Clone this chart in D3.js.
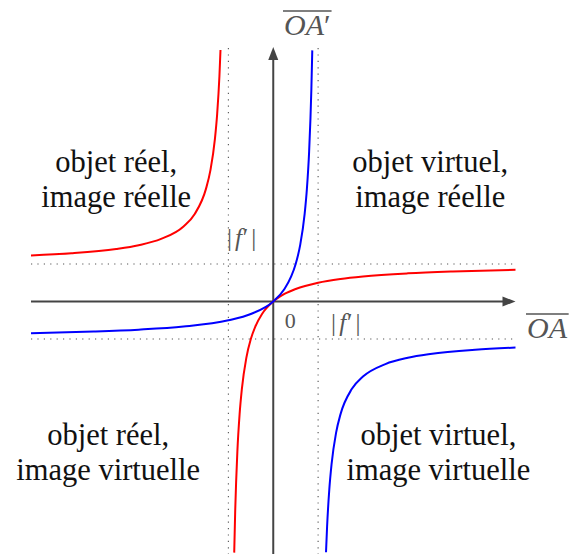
<!DOCTYPE html>
<html>
<head>
<meta charset="utf-8">
<script src="https://cdn.jsdelivr.net/npm/d3@7"></script>
<style>
  html, body { margin: 0; padding: 0; background: #fff; }
  svg { display: block; }
</style>
</head>
<body>
<svg id="chart" width="582" height="554"></svg>
<script>
// Conjugation curves of a thin lens, in units of |f'|.
// Converging lens (f' > 0): two branches separated by the asymptote OA = -f'.
const convergingLeft = [
  [-5.4, 1.227], [-4.5, 1.286], [-3.5, 1.4], [-3.0, 1.5], [-2.5, 1.667],
  [-2.0, 2.0], [-1.75, 2.333], [-1.5, 3.0], [-1.4, 3.5], [-1.3, 4.333],
  [-1.25, 5.0], [-1.2, 6.0], [-1.176, 6.7]
];
const convergingRight = [
  [-0.870, -6.69], [-0.85, -5.667], [-0.8, -4.0], [-0.75, -3.0], [-0.7, -2.333],
  [-0.6, -1.5], [-0.5, -1.0], [-0.4, -0.667], [-0.25, -0.333], [0, 0],
  [0.25, 0.2], [0.5, 0.333], [1.0, 0.5], [1.5, 0.6], [2.0, 0.667],
  [3.0, 0.75], [4.0, 0.8], [5.4, 0.844]
];
// Diverging lens (f' < 0): asymptote OA = +|f'|.
const divergingLeft = [
  [-5.4, -0.844], [-4.0, -0.8], [-3.0, -0.75], [-2.0, -0.667], [-1.0, -0.5],
  [-0.5, -0.333], [0, 0], [0.25, 0.333], [0.4, 0.667], [0.5, 1.0],
  [0.6, 1.5], [0.7, 2.333], [0.75, 3.0], [0.8, 4.0], [0.85, 5.667], [0.870, 6.69]
];
const divergingRight = [
  [1.176, -6.68], [1.2, -6.0], [1.25, -5.0], [1.3, -4.333], [1.4, -3.5],
  [1.5, -3.0], [1.75, -2.333], [2.0, -2.0], [2.5, -1.667], [3.0, -1.5],
  [3.5, -1.4], [4.5, -1.286], [5.4, -1.227]
];

// Focal guides at ±|f'|
const guideValues = [-1, 1];

// Region captions, one per quadrant
const captions = [
  { x: -3.5, y: 3.25, lines: ["objet réel,", "image réelle"] },
  { x: 3.5,  y: 3.25, lines: ["objet virtuel,", "image réelle"] },
  { x: -3.68, y: -4.03, lines: ["objet réel,", "image virtuelle"] },
  { x: 3.68,  y: -4.03, lines: ["objet virtuel,", "image virtuelle"] }
];

const SERIF = "'Liberation Serif', 'Times New Roman', Times, 'DejaVu Serif', serif";

const svg = d3.select("#chart");

const x = d3.scaleLinear().domain([-5.4, 5.4]).range([31, 515.5]);
const y = d3.scaleLinear().domain([-6.7, 6.7]).range([553, 50]);

const X0 = x(0), Y0 = y(0);
const left = x(-5.4), right = x(5.4);
const axisColor = "#444";

// Dotted guides
const dots = svg.append("g")
  .attr("stroke", "#555").attr("stroke-width", 1.1)
  .attr("stroke-dasharray", "1.2 5.2").attr("fill", "none");
guideValues.forEach(v => {
  dots.append("line").attr("x1", x(v)).attr("x2", x(v)).attr("y1", 48).attr("y2", 554);
  dots.append("line").attr("x1", left).attr("x2", right - 3).attr("y1", y(v)).attr("y2", y(v));
});

// Axes with arrowheads
const axes = svg.append("g");
axes.append("line").attr("x1", left).attr("x2", right - 8).attr("y1", Y0).attr("y2", Y0)
  .attr("stroke", axisColor).attr("stroke-width", 2);
axes.append("path")
  .attr("d", `M${right},${Y0} L${right - 13},${Y0 - 5} L${right - 13},${Y0 + 5} Z`)
  .attr("fill", axisColor);
axes.append("line").attr("x1", X0).attr("x2", X0).attr("y1", 554).attr("y2", 55)
  .attr("stroke", axisColor).attr("stroke-width", 2);
axes.append("path")
  .attr("d", `M${X0},47 L${X0 - 5},60 L${X0 + 5},60 Z`)
  .attr("fill", axisColor);

// Curves
const line = d3.line().x(d => x(d[0])).y(d => y(d[1])).curve(d3.curveMonotoneX);
const curves = svg.append("g").attr("fill", "none").attr("stroke-width", 2);
[convergingLeft, convergingRight].forEach(s =>
  curves.append("path").attr("d", line(s)).attr("stroke", "#ff0000"));
[divergingLeft, divergingRight].forEach(s =>
  curves.append("path").attr("d", line(s)).attr("stroke", "#0000ff"));

// Quadrant captions
captions.forEach(c => {
  const t = svg.append("text")
    .attr("font-family", SERIF).attr("font-size", 30.5).attr("fill", "#111")
    .attr("text-anchor", "middle");
  c.lines.forEach((ln, i) => {
    t.append("tspan").attr("x", x(c.x)).attr("y", y(c.y) + i * 35 - 8).text(ln);
  });
});

// |f'| labels and origin
function focalLabel(xLeft, baseline) {
  const t = svg.append("text")
    .attr("font-family", SERIF).attr("font-size", 25).attr("fill", "#555")
    .attr("x", xLeft).attr("y", baseline);
  t.append("tspan").text("|");
  t.append("tspan").attr("dx", 3).attr("font-style", "italic").text("f");
  t.append("tspan").attr("dx", 1).text("′");
  t.append("tspan").attr("dx", 3).text("|");
}
focalLabel(x(-1) - 1.5, 246);
focalLabel(x(1) + 13, 331);
svg.append("text")
  .attr("font-family", SERIF).attr("font-size", 22).attr("fill", "#555")
  .attr("x", X0 + 17).attr("y", 328).attr("text-anchor", "middle").text("0");

// Axis titles with overline
function overTitle(xLeft, baseline, label, prime) {
  const t = svg.append("text")
    .attr("font-family", SERIF).attr("font-size", 30).attr("fill", "#555")
    .attr("font-style", "italic").attr("x", xLeft).attr("y", baseline);
  t.append("tspan").text(label);
  if (prime) t.append("tspan").attr("font-style", "normal").text("′");
  const b = t.node().getBBox();
  svg.append("line").attr("x1", b.x - 1).attr("x2", b.x + b.width + 1)
    .attr("y1", baseline - 24).attr("y2", baseline - 24)
    .attr("stroke", "#555").attr("stroke-width", 1.3);
}
overTitle(284, 35, "OA", true);
overTitle(527, 338, "OA", false);
</script>
</body>
</html>
